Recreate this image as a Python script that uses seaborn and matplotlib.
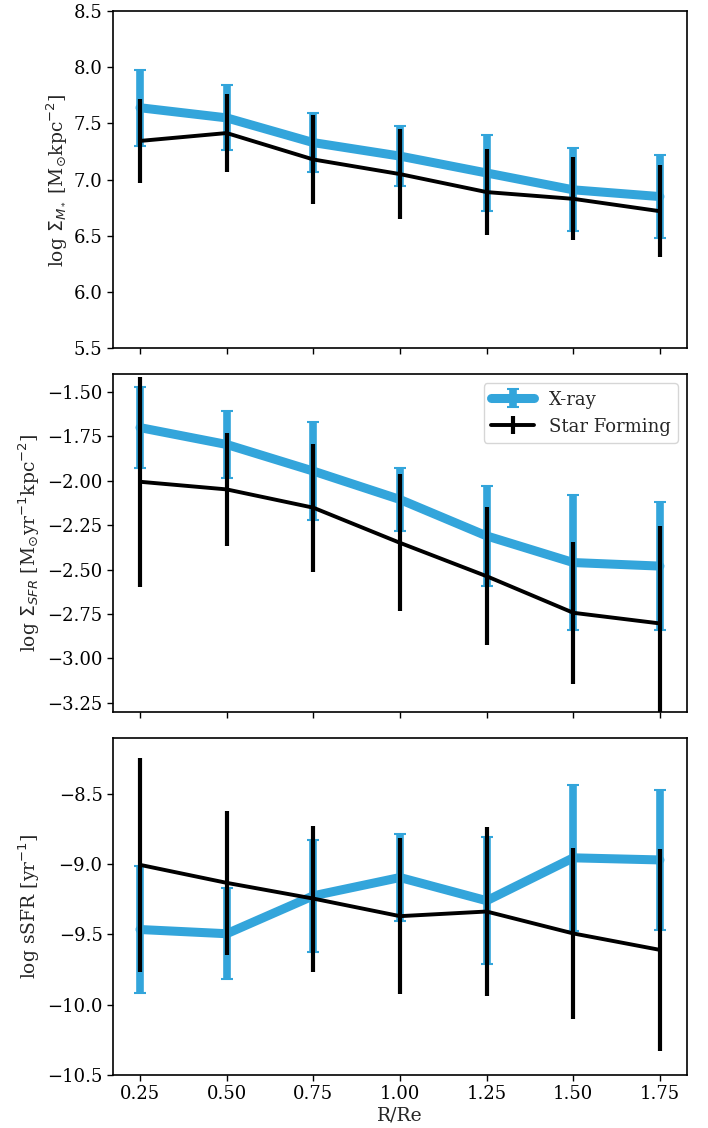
import numpy as np
import pandas as pd
import matplotlib
matplotlib.use("Agg")
import matplotlib.pyplot as plt
import seaborn as sns

# Radial bins
r_re = [0.25, 0.50, 0.75, 1.00, 1.25, 1.50, 1.75]

# Stellar mass surface density
xray_mass = [7.64, 7.55, 7.33, 7.21, 7.06, 6.91, 6.85]
xray_mass_err = [0.34, 0.29, 0.26, 0.27, 0.34, 0.37, 0.37]
sf_mass = [7.345, 7.415, 7.18, 7.05, 6.89, 6.83, 6.72]
sf_mass_err = [0.375, 0.35, 0.40, 0.40, 0.38, 0.37, 0.41]

# Star formation rate surface density
xray_sfr = [-1.70, -1.795, -1.945, -2.105, -2.31, -2.46, -2.48]
xray_sfr_err = [0.23, 0.19, 0.275, 0.18, 0.28, 0.38, 0.36]
sf_sfr = [-2.005, -2.048, -2.151, -2.349, -2.537, -2.743, -2.803]
sf_sfr_err = [0.59, 0.32, 0.36, 0.385, 0.39, 0.40, 0.55]

# Specific star formation rate
xray_ssfr = [-9.465, -9.495, -9.225, -9.095, -9.26, -8.955, -8.97]
xray_ssfr_err = [0.45, 0.325, 0.40, 0.31, 0.45, 0.52, 0.50]
sf_ssfr = [-9.005, -9.133, -9.245, -9.37, -9.337, -9.493, -9.61]
sf_ssfr_err = [0.76, 0.51, 0.52, 0.556, 0.60, 0.61, 0.72]

ylabels = [
    r"log $\Sigma_{M_*}$ [M$_{\odot}$kpc$^{-2}$]",
    r"log $\Sigma_{SFR}$ [M$_{\odot}$yr$^{-1}$kpc$^{-2}$]",
    r"log sSFR [yr$^{-1}$]",
]
ylims = [(5.5, 8.5), (-3.3, -1.4), (-10.5, -8.1)]

sns.set_theme(style="ticks")
plt.rcParams["font.family"] = ["DejaVu Serif"]
plt.rcParams["mathtext.fontset"] = "dejavusans"
plt.rcParams["font.size"] = 13
plt.rcParams["axes.linewidth"] = 1.2
plt.rcParams["axes.edgecolor"] = "black"

BLUE = "#33a5db"

fig, axes = plt.subplots(3, 1, figsize=(7.08, 11.28), dpi=100, sharex=True)
fig.subplots_adjust(left=0.1596, right=0.9703, top=0.9902, bottom=0.047, hspace=0.077)

panels = [
    (xray_mass, xray_mass_err, sf_mass, sf_mass_err),
    (xray_sfr, xray_sfr_err, sf_sfr, sf_sfr_err),
    (xray_ssfr, xray_ssfr_err, sf_ssfr, sf_ssfr_err),
]

handles = None
for ax, (xv, xe, sv, se), ylab, ylim in zip(axes, panels, ylabels, ylims):
    df = pd.DataFrame({"r": r_re, "xray": xv, "sf": sv})
    sns.lineplot(data=df, x="r", y="xray", ax=ax, color=BLUE, lw=6.5, legend=False, zorder=2)
    line_x = ax.lines[-1]
    eb_x = ax.errorbar(r_re, xv, yerr=xe, fmt="none", ecolor=BLUE, elinewidth=5.5,
                       capsize=4.5, capthick=1.5, zorder=2)
    sns.lineplot(data=df, x="r", y="sf", ax=ax, color="black", lw=2.8, legend=False, zorder=3)
    line_s = ax.lines[-1]
    eb_s = ax.errorbar(r_re, sv, yerr=se, fmt="none", ecolor="black", elinewidth=3,
                       capsize=0, zorder=3)
    ax.set_ylim(*ylim)
    ax.set_ylabel(ylab, fontsize=13.5)
    ax.set_xlabel("")
    ax.tick_params(direction="out", length=4, width=1, labelsize=13, colors="black")
    for sp in ax.spines.values():
        sp.set_visible(True)
        sp.set_color("black")
    if ax is axes[1]:
        handles = [(line_x, eb_x), (line_s, eb_s)]

axes[0].set_yticks(np.arange(5.5, 8.51, 0.5))
axes[1].set_yticks(np.arange(-3.25, -1.49, 0.25))
axes[2].set_yticks(np.arange(-10.5, -8.49, 0.5))
axes[2].set_xticks(r_re)
axes[2].set_xticklabels([f"{v:.2f}" for v in r_re])
axes[2].set_xlabel("R/Re", fontsize=13.5, labelpad=2)
axes[2].set_xlim(0.172, 1.828)

axes[1].legend(handles, ["X-ray", "Star Forming"], loc="upper right", fontsize=13,
               frameon=True, handlelength=2.4)

fig.savefig("out.png", dpi=100)
